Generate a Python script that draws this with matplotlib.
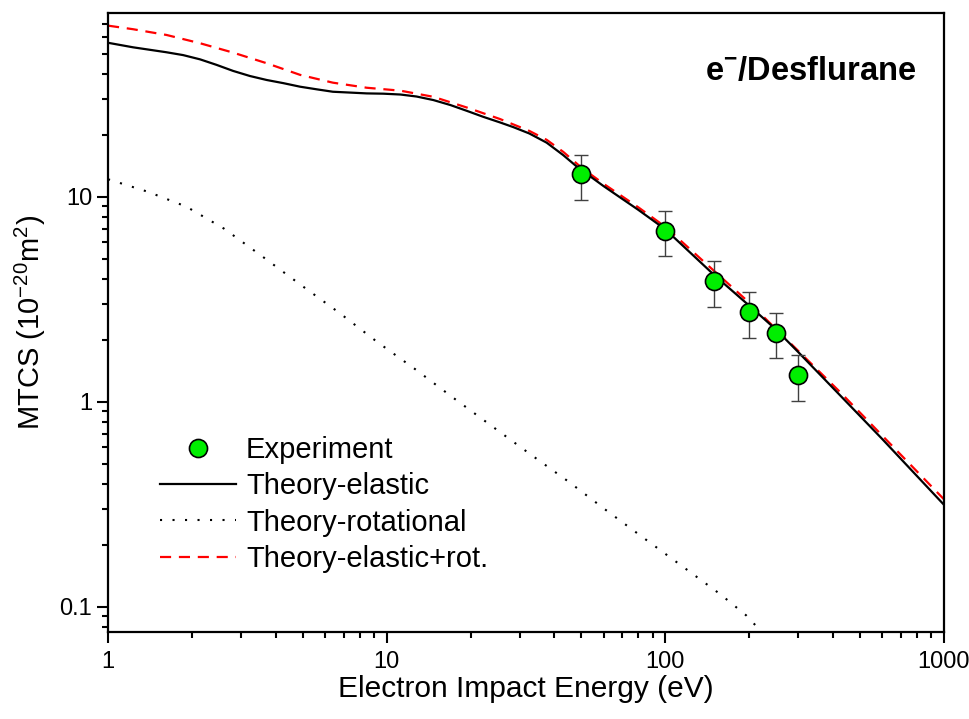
import matplotlib
matplotlib.use("Agg")
import matplotlib.pyplot as plt
from matplotlib.ticker import FuncFormatter, LogLocator

plt.rcParams["font.family"] = ["Liberation Sans", "DejaVu Sans"]

# experiment (eV, 1e-20 m^2)
exp_e = [50, 100, 150, 200, 250, 300]
exp_mtcs = [12.9, 6.85, 3.9, 2.75, 2.18, 1.35]
exp_err = [3.2, 1.7, 0.98, 0.69, 0.55, 0.34]

# theory - elastic
el_e = [1.0, 1.23, 1.62, 1.86, 2.14, 2.45, 2.81, 3.23, 3.71, 4.26, 4.89,
        5.61, 6.41, 7.38, 8.48, 9.72, 11.2, 12.8, 14.7, 16.9, 19.4, 22.2,
        25.5, 28.5, 32.5, 37.5, 43, 48, 60, 80, 100, 150, 200, 250, 300,
        423, 600, 1000]
el_mtcs = [56.5, 53.7, 50.8, 49.2, 46.9, 44.1, 41.2, 38.9, 37.2, 35.9, 34.5,
           33.5, 32.6, 32.3, 32.0, 31.9, 31.6, 30.9, 29.7, 28.1, 26.3, 24.6,
           23.1, 21.9, 20.4, 18.4, 16.0, 14.1, 11.3, 8.65, 6.95, 4.15, 2.95,
           2.25, 1.75, 1.08, 0.66, 0.315]

# theory - rotational
rot_e = [1.0, 1.39, 1.91, 2.61, 3.59, 4.91, 6.74, 9.21, 12.7, 17.3, 23.8,
         32.7, 44.9, 61.2, 84, 115, 158, 195, 215, 250]
rot_mtcs = [12.2, 10.6, 8.97, 7.0, 5.11, 3.73, 2.73, 1.97, 1.44, 1.05, 0.764,
            0.557, 0.409, 0.297, 0.216, 0.158, 0.115, 0.091, 0.079, 0.065]

# theory - elastic + rotational
sum_e = [1.0, 1.23, 1.62, 2.14, 2.81, 3.71, 4.89, 6.41, 8.48, 11.2, 14.7,
         19.4, 25.5, 32.5, 37.5, 43, 50, 60, 80, 100, 200, 423, 1000]
sum_mtcs = [68.5, 65.8, 61.7, 56.2, 50.6, 44.9, 39.4, 36.1, 34.1, 33.0, 30.8,
            27.3, 24.0, 21.0, 19.0, 16.6, 13.9, 11.6, 8.9, 7.15, 3.05, 1.12,
            0.335]


def main():
    fig = plt.figure(figsize=(9.69, 7.19), dpi=100)
    ax = fig.add_axes([0.1115, 0.121, 0.8627, 0.861])

    ax.plot(el_e, el_mtcs, c="k", lw=1.6, label="Theory-elastic", zorder=3)
    ax.plot(rot_e, rot_mtcs, c="k", lw=1.5, ls=(0, (1, 5)),
            label="Theory-rotational", zorder=3)
    ax.plot(sum_e, sum_mtcs, c="#ff0000", lw=1.6, ls=(0, (5, 3.5)),
            label="Theory-elastic+rot.", zorder=2)

    ax.errorbar(exp_e, exp_mtcs, yerr=exp_err, fmt="none", ecolor="#404040",
                elinewidth=1, capsize=5, capthick=1, zorder=4)
    ax.plot(exp_e, exp_mtcs, "o", ms=13, mfc="#00ee00", mec="k", mew=1.2,
            label="Experiment", zorder=5)

    ax.set_xscale("log")
    ax.set_yscale("log")
    ax.set_xlim(1, 1000)
    ax.set_ylim(0.0755, 79)

    fmt = FuncFormatter(lambda v, _: f"{v:g}")
    ax.xaxis.set_major_formatter(fmt)
    ax.yaxis.set_major_formatter(fmt)
    ax.xaxis.set_minor_locator(LogLocator(base=10, subs=range(2, 10)))
    ax.yaxis.set_minor_locator(LogLocator(base=10, subs=range(2, 10)))
    ax.xaxis.set_minor_formatter(FuncFormatter(lambda v, _: ""))
    ax.yaxis.set_minor_formatter(FuncFormatter(lambda v, _: ""))

    ax.tick_params(which="both", direction="out", top=False, right=False,
                   width=1.5, labelsize=17)
    ax.tick_params(which="major", length=8)
    ax.tick_params(which="minor", length=4.5)
    ax.tick_params(axis="x", which="major", pad=6)
    for s in ax.spines.values():
        s.set_linewidth(1.6)

    ax.set_xlabel("Electron Impact Energy (eV)", fontsize=21.5, labelpad=1)
    ax.set_ylabel(r"MTCS (10$^{\mathregular{-20}}$m$^{\mathregular{2}}$)",
                  fontsize=21, labelpad=8)

    ax.text(0.841, 0.906, r"e$^{\mathregular{-}}$/Desflurane",
            transform=ax.transAxes, ha="center", va="center",
            fontsize=23.5, fontweight="bold")

    handles, labels = ax.get_legend_handles_labels()
    order = [3, 0, 1, 2]
    ax.legend([handles[i] for i in order], [labels[i] for i in order],
              loc="upper left", bbox_to_anchor=(0.048, 0.335), frameon=False,
              fontsize=21, handlelength=2.6, handletextpad=0.35,
              labelspacing=0.28, borderaxespad=0)

    fig.savefig("out.png", dpi=100)


if __name__ == "__main__":
    main()
